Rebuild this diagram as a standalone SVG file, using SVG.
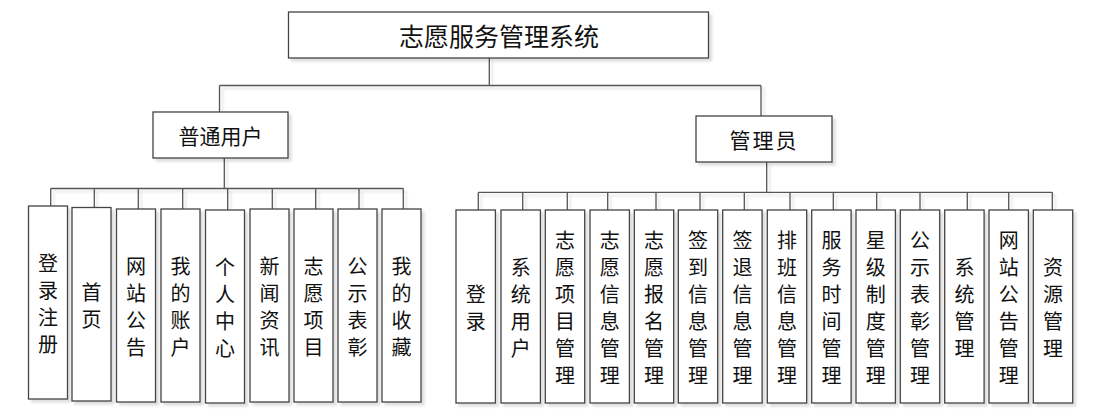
<svg xmlns="http://www.w3.org/2000/svg" width="1098" height="415" viewBox="0 0 1098 415">
<style>
.box{fill:#fff;stroke:#444;stroke-width:1.3;filter:url(#sh)}
.t{font-family:"Noto Sans CJK SC","Noto Sans CJK JP",sans-serif;fill:#111;text-anchor:middle;dominant-baseline:central}
.t25{font-size:25px}
.t21{font-size:21px}
.v{font-size:20px}
#connectors path{fill:none;stroke:#555;stroke-width:1.3}
</style>
<defs>
<filter id="sh" x="-20%" y="-20%" width="140%" height="140%">
<feDropShadow dx="3" dy="3" stdDeviation="0.8" flood-color="#000" flood-opacity="0.12"/>
</filter>
</defs>
<rect width="1098" height="415" fill="#fff"/>
<g id="connectors" filter="url(#sh)">
<path d="M489.3 58V85.5M219.5 85.5H761M219.5 85.5V112M761 85.5V116"/>
<path d="M224.3 158V188.5M50.7 188.5H403.3M50.7 188.5V206M94.3 188.5V207.5M138.3 188.5V209M182.7 188.5V209M227.7 188.5V210M272.3 188.5V209M315.7 188.5V209M359 188.5V209M403.3 188.5V209"/>
<path d="M766.7 162V192.3M478.3 192.3H1052.3M478.3 192.3V210M522.7 192.3V210M567.3 192.3V210M607.7 192.3V210M656 192.3V210M700 192.3V210M744.3 192.3V210M790 192.3V210M833.3 192.3V210M876.7 192.3V210M920 192.3V210M967.3 192.3V210M1008.7 192.3V210M1052.3 192.3V210"/>
</g>
<g id="root"><rect class="box" x="288.5" y="12" width="420" height="46"/><text class="t t25" x="499" y="35">志愿服务管理系统</text></g>
<g id="user"><rect class="box" x="153" y="112" width="135" height="46"/><text class="t t21" x="220.5" y="135">普通用户</text></g>
<g id="admin"><rect class="box" x="696" y="116" width="136" height="46"/><text class="t t21" x="764" y="139" letter-spacing="2">管理员</text></g>

<g id="u1"><rect class="box" x="28.5" y="206" width="39" height="193"/><text class="t v"><tspan x="48" y="262">登</tspan><tspan x="48" y="289">录</tspan><tspan x="48" y="316">注</tspan><tspan x="48" y="343">册</tspan></text></g>
<g id="u2"><rect class="box" x="72" y="207.5" width="39" height="193.5"/><text class="t v"><tspan x="91.5" y="290.5">首</tspan><tspan x="91.5" y="317.5">页</tspan></text></g>
<g id="u3"><rect class="box" x="116.5" y="209" width="39" height="193"/><text class="t v"><tspan x="136" y="265">网</tspan><tspan x="136" y="292">站</tspan><tspan x="136" y="319">公</tspan><tspan x="136" y="346">告</tspan></text></g>
<g id="u4"><rect class="box" x="161" y="209" width="39" height="193"/><text class="t v"><tspan x="180.5" y="265">我</tspan><tspan x="180.5" y="292">的</tspan><tspan x="180.5" y="319">账</tspan><tspan x="180.5" y="346">户</tspan></text></g>
<g id="u5"><rect class="box" x="205.5" y="210" width="39" height="193"/><text class="t v"><tspan x="225" y="266">个</tspan><tspan x="225" y="293">人</tspan><tspan x="225" y="320">中</tspan><tspan x="225" y="347">心</tspan></text></g>
<g id="u6"><rect class="box" x="250" y="209" width="39" height="193"/><text class="t v"><tspan x="269.5" y="265">新</tspan><tspan x="269.5" y="292">闻</tspan><tspan x="269.5" y="319">资</tspan><tspan x="269.5" y="346">讯</tspan></text></g>
<g id="u7"><rect class="box" x="294" y="209" width="39" height="193"/><text class="t v"><tspan x="313.5" y="265">志</tspan><tspan x="313.5" y="292">愿</tspan><tspan x="313.5" y="319">项</tspan><tspan x="313.5" y="346">目</tspan></text></g>
<g id="u8"><rect class="box" x="338" y="209" width="39" height="193"/><text class="t v"><tspan x="357.5" y="265">公</tspan><tspan x="357.5" y="292">示</tspan><tspan x="357.5" y="319">表</tspan><tspan x="357.5" y="346">彰</tspan></text></g>
<g id="u9"><rect class="box" x="382" y="209" width="39" height="193"/><text class="t v"><tspan x="401.5" y="265">我</tspan><tspan x="401.5" y="292">的</tspan><tspan x="401.5" y="319">收</tspan><tspan x="401.5" y="346">藏</tspan></text></g>

<g id="a1"><rect class="box" x="456" y="210" width="39.4" height="193"/><text class="t v"><tspan x="475.7" y="293">登</tspan><tspan x="475.7" y="320">录</tspan></text></g>
<g id="a2"><rect class="box" x="501" y="210" width="39.4" height="193"/><text class="t v"><tspan x="520.7" y="266">系</tspan><tspan x="520.7" y="293">统</tspan><tspan x="520.7" y="320">用</tspan><tspan x="520.7" y="347">户</tspan></text></g>
<g id="a3"><rect class="box" x="545.3" y="210" width="39.4" height="193"/><text class="t v"><tspan x="565" y="239">志</tspan><tspan x="565" y="266">愿</tspan><tspan x="565" y="293">项</tspan><tspan x="565" y="320">目</tspan><tspan x="565" y="347">管</tspan><tspan x="565" y="374">理</tspan></text></g>
<g id="a4"><rect class="box" x="590" y="210" width="39.4" height="193"/><text class="t v"><tspan x="609.7" y="239">志</tspan><tspan x="609.7" y="266">愿</tspan><tspan x="609.7" y="293">信</tspan><tspan x="609.7" y="320">息</tspan><tspan x="609.7" y="347">管</tspan><tspan x="609.7" y="374">理</tspan></text></g>
<g id="a5"><rect class="box" x="634.3" y="210" width="39.4" height="193"/><text class="t v"><tspan x="654" y="239">志</tspan><tspan x="654" y="266">愿</tspan><tspan x="654" y="293">报</tspan><tspan x="654" y="320">名</tspan><tspan x="654" y="347">管</tspan><tspan x="654" y="374">理</tspan></text></g>
<g id="a6"><rect class="box" x="678.3" y="210" width="39.4" height="193"/><text class="t v"><tspan x="698" y="239">签</tspan><tspan x="698" y="266">到</tspan><tspan x="698" y="293">信</tspan><tspan x="698" y="320">息</tspan><tspan x="698" y="347">管</tspan><tspan x="698" y="374">理</tspan></text></g>
<g id="a7"><rect class="box" x="722.7" y="210" width="39.4" height="193"/><text class="t v"><tspan x="742.4" y="239">签</tspan><tspan x="742.4" y="266">退</tspan><tspan x="742.4" y="293">信</tspan><tspan x="742.4" y="320">息</tspan><tspan x="742.4" y="347">管</tspan><tspan x="742.4" y="374">理</tspan></text></g>
<g id="a8"><rect class="box" x="767.3" y="210" width="39.4" height="193"/><text class="t v"><tspan x="787" y="239">排</tspan><tspan x="787" y="266">班</tspan><tspan x="787" y="293">信</tspan><tspan x="787" y="320">息</tspan><tspan x="787" y="347">管</tspan><tspan x="787" y="374">理</tspan></text></g>
<g id="a9"><rect class="box" x="811.7" y="210" width="39.4" height="193"/><text class="t v"><tspan x="831.4" y="239">服</tspan><tspan x="831.4" y="266">务</tspan><tspan x="831.4" y="293">时</tspan><tspan x="831.4" y="320">间</tspan><tspan x="831.4" y="347">管</tspan><tspan x="831.4" y="374">理</tspan></text></g>
<g id="a10"><rect class="box" x="856" y="210" width="39.4" height="193"/><text class="t v"><tspan x="875.7" y="239">星</tspan><tspan x="875.7" y="266">级</tspan><tspan x="875.7" y="293">制</tspan><tspan x="875.7" y="320">度</tspan><tspan x="875.7" y="347">管</tspan><tspan x="875.7" y="374">理</tspan></text></g>
<g id="a11"><rect class="box" x="900.3" y="210" width="39.4" height="193"/><text class="t v"><tspan x="920" y="239">公</tspan><tspan x="920" y="266">示</tspan><tspan x="920" y="293">表</tspan><tspan x="920" y="320">彰</tspan><tspan x="920" y="347">管</tspan><tspan x="920" y="374">理</tspan></text></g>
<g id="a12"><rect class="box" x="944.7" y="210" width="39.4" height="193"/><text class="t v"><tspan x="964.4" y="266">系</tspan><tspan x="964.4" y="293">统</tspan><tspan x="964.4" y="320">管</tspan><tspan x="964.4" y="347">理</tspan></text></g>
<g id="a13"><rect class="box" x="989" y="210" width="39.4" height="193"/><text class="t v"><tspan x="1008.7" y="239">网</tspan><tspan x="1008.7" y="266">站</tspan><tspan x="1008.7" y="293">公</tspan><tspan x="1008.7" y="320">告</tspan><tspan x="1008.7" y="347">管</tspan><tspan x="1008.7" y="374">理</tspan></text></g>
<g id="a14"><rect class="box" x="1033.3" y="210" width="39.4" height="193"/><text class="t v"><tspan x="1053" y="266">资</tspan><tspan x="1053" y="293">源</tspan><tspan x="1053" y="320">管</tspan><tspan x="1053" y="347">理</tspan></text></g>
</svg>
